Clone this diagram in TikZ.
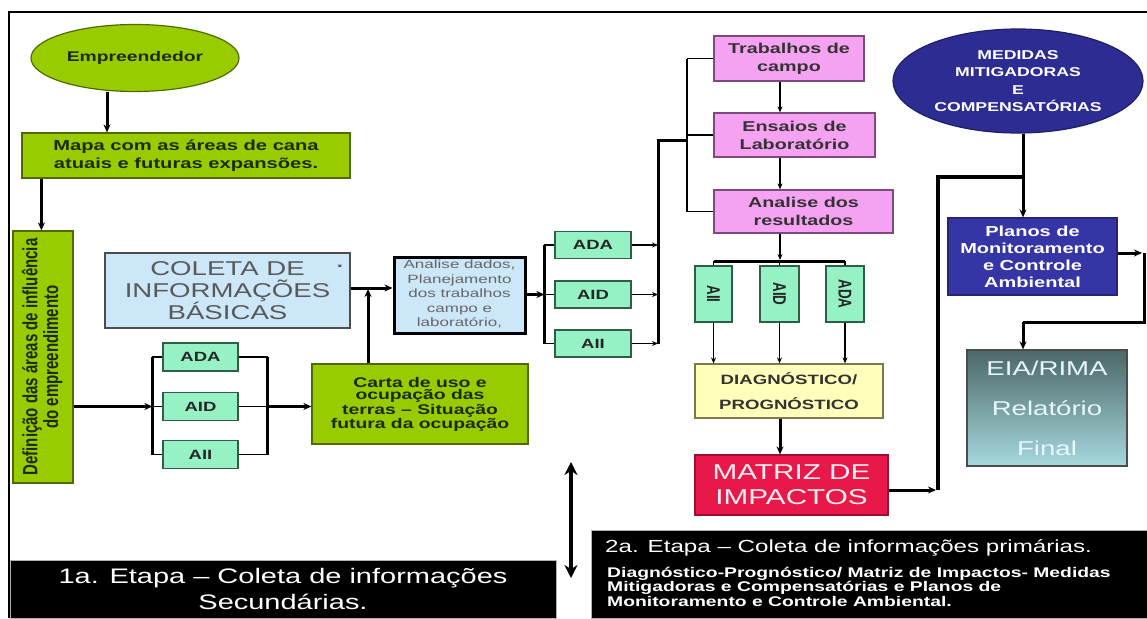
\documentclass[tikz,border=0pt]{standalone}
\usepackage{fontspec}
\usepackage{graphicx}
\usetikzlibrary{arrows.meta,shapes.geometric}
\setmainfont{Liberation Sans}
\newfontfamily\ws[FakeStretch=1.38]{Liberation Sans}
\newfontfamily\rs{Liberation Sans}
\definecolor{cgreen}{HTML}{99CC00}
\definecolor{cgreenD}{HTML}{4F6B00}
\definecolor{ctxtG}{HTML}{1C2A05}
\definecolor{cmint}{HTML}{96F2C4}
\definecolor{cmintD}{HTML}{2E5E46}
\definecolor{cpink}{HTML}{F6A2F2}
\definecolor{cpinkD}{HTML}{7E4A7E}
\definecolor{cblue}{HTML}{CCE7F8}
\definecolor{cyel}{HTML}{FFFFBB}
\definecolor{cyelD}{HTML}{7A7A4A}
\definecolor{cred}{HTML}{E8184A}
\definecolor{credD}{HTML}{9A1030}
\definecolor{cnavy}{HTML}{2C2C92}
\definecolor{cplan}{HTML}{3535A6}
\definecolor{ceiaT}{HTML}{4C6767}
\definecolor{ceiaB}{HTML}{A6D9DD}
\begin{document}
\begin{tikzpicture}[x=1pt,y=-1pt,
  base/.style={draw, inner sep=0pt, align=center, line width=1.2pt},
  gbox/.style={base, fill=cgreen, draw=cgreenD, text=ctxtG},
  mbox/.style={base, fill=cmint, draw=cmintD, text=black!85, font=\ws\bfseries\fontsize{13.4}{16}\selectfont},
  vbox/.style={base, fill=cmint, draw=cmintD, text=black!85, font=\rs\bfseries\fontsize{13.4}{16}\selectfont, minimum height=56pt},
  pbox/.style={base, fill=cpink, draw=cpinkD, text=black!80, font=\ws\bfseries\fontsize{14.3}{18}\selectfont},
  etbox/.style={fill=black, draw=gray!60, line width=0.8pt, inner sep=0pt, text=white},
  thk/.style={line width=3pt},
  vthk/.style={line width=3.6pt},
  thn/.style={line width=1.6pt},
  arr/.style={-{Stealth[length=8pt,width=7pt]}},
  sarr/.style={-{Stealth[length=6pt,width=5pt]}},
]
\useasboundingbox (0,0) rectangle (1147,618);
\fill[white] (0,0) rectangle (1147,618);
% frame
\draw[line width=2.6pt] (9,618) -- (9,12) -- (1147,12);

% left column
\node[gbox, ellipse, minimum width=208pt, minimum height=67pt, font=\ws\bfseries\fontsize{14}{17}\selectfont] (emp) at (135,58) {Empreendedor};
\node[gbox, minimum width=328pt, minimum height=45pt, font=\ws\bfseries\fontsize{14.6}{18}\selectfont] (mapa) at (186,155.5) {Mapa com as áreas de cana\\atuais e futuras expansões.};
\node[gbox, minimum width=60pt, minimum height=252pt, font=\rs\bfseries\fontsize{15}{17}\selectfont] (def) at (43,357) {\rotatebox{90}{\scalebox{1}[1.38]{\begin{tabular}{@{}c@{}}Definição das áreas de influência\\[-2pt] do empreendimento\end{tabular}}}};

\node[mbox, minimum width=75pt, minimum height=28pt] (ada1) at (200.5,357) {ADA};
\node[mbox, minimum width=75pt, minimum height=28pt] (aid1) at (200.5,406.5) {AID};
\node[mbox, minimum width=75pt, minimum height=28pt] (aii1) at (200.5,454.5) {AII};

\node[gbox, minimum width=216pt, minimum height=80pt, font=\ws\bfseries\fontsize{14}{12.8}\selectfont] (carta) at (420,404) {Carta de uso e\\ocupação das\\terras – Situação\\futura da ocupação};

\node[base, fill=cblue, draw=black!70, line width=1.8pt, minimum width=245pt, minimum height=75pt, text=black!65, font=\ws\fontsize{20}{22}\selectfont] (coleta) at (227.5,290.5) {COLETA DE\\INFORMAÇÕES\\BÁSICAS};
\node[inner sep=0pt, text=black!65, font=\ws\bfseries\fontsize{16}{16}\selectfont] (dot) at (340,266) {.};

\node[base, fill=cblue, draw=black, line width=3pt, minimum width=131pt, minimum height=76pt, text=black!60, font=\rs\fontsize{12}{14.5}\selectfont] (analise) at (459.5,295) {\scalebox{1.42}[1]{\begin{tabular}{@{}c@{}}Analise dados,\\Planejamento\\dos trabalhos\\campo e\\laboratório,\end{tabular}}};

\node[mbox, minimum width=76pt, minimum height=27pt] (ada2) at (593,245) {ADA};
\node[mbox, minimum width=76pt, minimum height=27pt] (aid2) at (593,294.5) {AID};
\node[mbox, minimum width=76pt, minimum height=27pt] (aii2) at (593,343.5) {AII};

% pink column
\node[pbox, minimum width=150pt, minimum height=45pt] (trab) at (789,58.5) {Trabalhos de\\campo};
\node[pbox, minimum width=161pt, minimum height=44pt] (ens) at (794.5,135) {Ensaios de\\Laboratório};
\node[pbox, minimum width=179pt, minimum height=43pt] (anr) at (803.5,211.5) {Analise dos\\resultados};

\node[vbox, minimum width=37pt] (vaii) at (713.5,294) {\rotatebox{-90}{\scalebox{1}[1.38]{AII}}};
\node[vbox, minimum width=39pt] (vaid) at (779.5,294) {\rotatebox{-90}{\scalebox{1}[1.38]{AID}}};
\node[vbox, minimum width=38pt] (vada) at (845,294) {\rotatebox{-90}{\scalebox{1}[1.38]{ADA}}};

\node[base, fill=cyel, draw=cyelD, minimum width=188pt, minimum height=54pt, text=black!80, font=\ws\bfseries\fontsize{13.5}{25}\selectfont] (diag) at (789,391) {DIAGNÓSTICO/\\PROGNÓSTICO};

\node[base, fill=cred, draw=credD, minimum width=193pt, minimum height=60pt, text=red!6, font=\ws\fontsize{21.5}{25}\selectfont] (matriz) at (791.5,485) {MATRIZ DE\\IMPACTOS};

% right column
\node[base, ellipse, fill=cnavy, draw=cnavy!70!black, minimum width=250pt, minimum height=104pt, text=white, font=\ws\bfseries\fontsize{12.8}{17.5}\selectfont] (medidas) at (1018,81) {MEDIDAS\\MITIGADORAS\\E\\COMPENSATÓRIAS};
\node[base, fill=cplan, draw=cplan!70!black, minimum width=169pt, minimum height=77pt, text=white, font=\ws\bfseries\fontsize{14.5}{17}\selectfont] (planos) at (1032.5,256.5) {Planos de\\Monitoramento\\e Controle\\Ambiental};
\node[base, draw=black!70, top color=ceiaT, bottom color=ceiaB, minimum width=160pt, minimum height=116pt, text=white!90!cyan, font=\ws\fontsize{20}{40}\selectfont] (eia) at (1047,408) {EIA/RIMA\\Relatório\\Final};

% etapa boxes
\node[etbox, minimum width=546pt, minimum height=58pt, align=center, font=\ws\fontsize{21}{26}\selectfont] (et1) at (283,589) {1a. Etapa – Coleta de informações\\Secundárias.};
\node[etbox, minimum width=556pt, minimum height=88pt] (et2) at (869,574) {};
\node[anchor=west, inner sep=0pt, text=white, font=\ws\fontsize{17.5}{20}\selectfont] (et2a) at (605,548) {2a. Etapa – Coleta de informações primárias.};
\node[anchor=north west, inner sep=0pt, align=left, text=white, font=\ws\bfseries\fontsize{14}{14.5}\selectfont] (et2b) at (607,567) {Diagnóstico-Prognóstico/ Matriz de Impactos- Medidas\\Mitigadoras e Compensatórias e Planos de\\Monitoramento e Controle Ambiental.};

% ---------- connectors ----------
\coordinate (e1) at ([xshift=-28pt]emp.south);
\draw[thk,arr] (e1) -- (e1 |- mapa.north);
\coordinate (m1) at ([xshift=20pt]mapa.south west);
\draw[thk,arr] (m1) -- (m1 |- def.north);

% left bracket group
\coordinate (lb) at ([xshift=-10pt]aid1.west);
\draw[thk,arr] (def.east |- lb) -- (lb);
\draw[thk] ([xshift=-10pt]ada1.west) -- ([xshift=-10pt]aii1.west);
\foreach \n in {ada1,aid1,aii1} \draw[thn] ([xshift=-10pt]\n.west) -- (\n.west);
\coordinate (rb1) at ([xshift=29pt]aid1.east);
\draw[thk] ([xshift=29pt]ada1.east) -- ([xshift=29pt]aii1.east);
\foreach \n in {ada1,aid1,aii1} \draw[thn] (\n.east) -- ([xshift=29pt]\n.east);
\draw[thk,arr] (rb1) -- (carta.west |- rb1);

% coleta -> analise, carta up
\coordinate (j1) at (368,288);
\draw[thk,arr] (coleta.east |- j1) -- (analise.west |- j1);
\draw[thk,arr] (carta.north -| j1) -- ([yshift=-1pt]j1);

% analise -> second bracket group
\coordinate (lb2) at ([xshift=-10pt]aid2.west);
\draw[thk,arr] (analise.east |- lb2) -- (lb2);
\draw[thk] ([xshift=-10pt]ada2.west) -- ([xshift=-10pt]aii2.west);
\foreach \n in {ada2,aid2,aii2} \draw[thn] ([xshift=-10pt]\n.west) -- (\n.west);
\coordinate (rb) at (658,140);
\coordinate (rb2) at (687,140);
\foreach \n in {ada2,aid2,aii2} \draw[thn,sarr] (\n.east) -- (\n.east -| rb);
\draw[thk] (aii2.east -| rb) -- (rb) -- (rb2);
\draw[thn] (trab.west -| rb2) -- (anr.west -| rb2);
\foreach \n in {trab,ens,anr} \draw[thn] (\n.west -| rb2) -- (\n.west);

% pink chain
\coordinate (px) at (780,261);
\draw[thn,sarr] (trab.south -| px) -- (ens.north -| px);
\draw[thn,sarr] (ens.south -| px) -- (anr.north -| px);
\draw[thn,sarr] (anr.south -| px) -- ([yshift=1pt]px);
\draw[thk] (vaii.north |- px) -- (vada.north |- px);
\foreach \n in {vaii,vaid,vada} \draw[thn] (\n.north |- px) -- (\n.north);
\foreach \n in {vaii,vaid,vada} \draw[thn,sarr] (\n.south) -- (\n.south |- diag.north);
\draw[thk,arr] (diag.south -| px) -- (matriz.north -| px);

% matriz -> right trunk
\coordinate (mv) at (938,490);
\coordinate (mt) at (938,177);
\coordinate (mc) at (1023,177);
\draw[thk,arr] (matriz.east |- mv) -- ([xshift=-2pt]mv);
\draw[vthk] (mv) -- (mt) -- (mc);
\draw[thk,arr] (medidas.south -| mc) -- (planos.north -| mc);

% planos -> eia
\coordinate (pr) at (1144,253);
\coordinate (pb) at (1144,322);
\coordinate (pe) at (1023,322);
\draw[thk,arr] (planos.east |- pr) -- ([xshift=-2pt]pr);
\draw[thk] (pr) -- (pb) -- (pe);
\draw[thk,arr] (pe) -- (eia.north -| pe);

% double arrow between stages
\coordinate (da1) at (571,462);
\coordinate (da2) at (571,578);
\draw[line width=3.2pt,{Stealth[length=13pt,width=13pt]}-{Stealth[length=13pt,width=13pt]}] (da1) -- (da2);
\end{tikzpicture}
\end{document}
